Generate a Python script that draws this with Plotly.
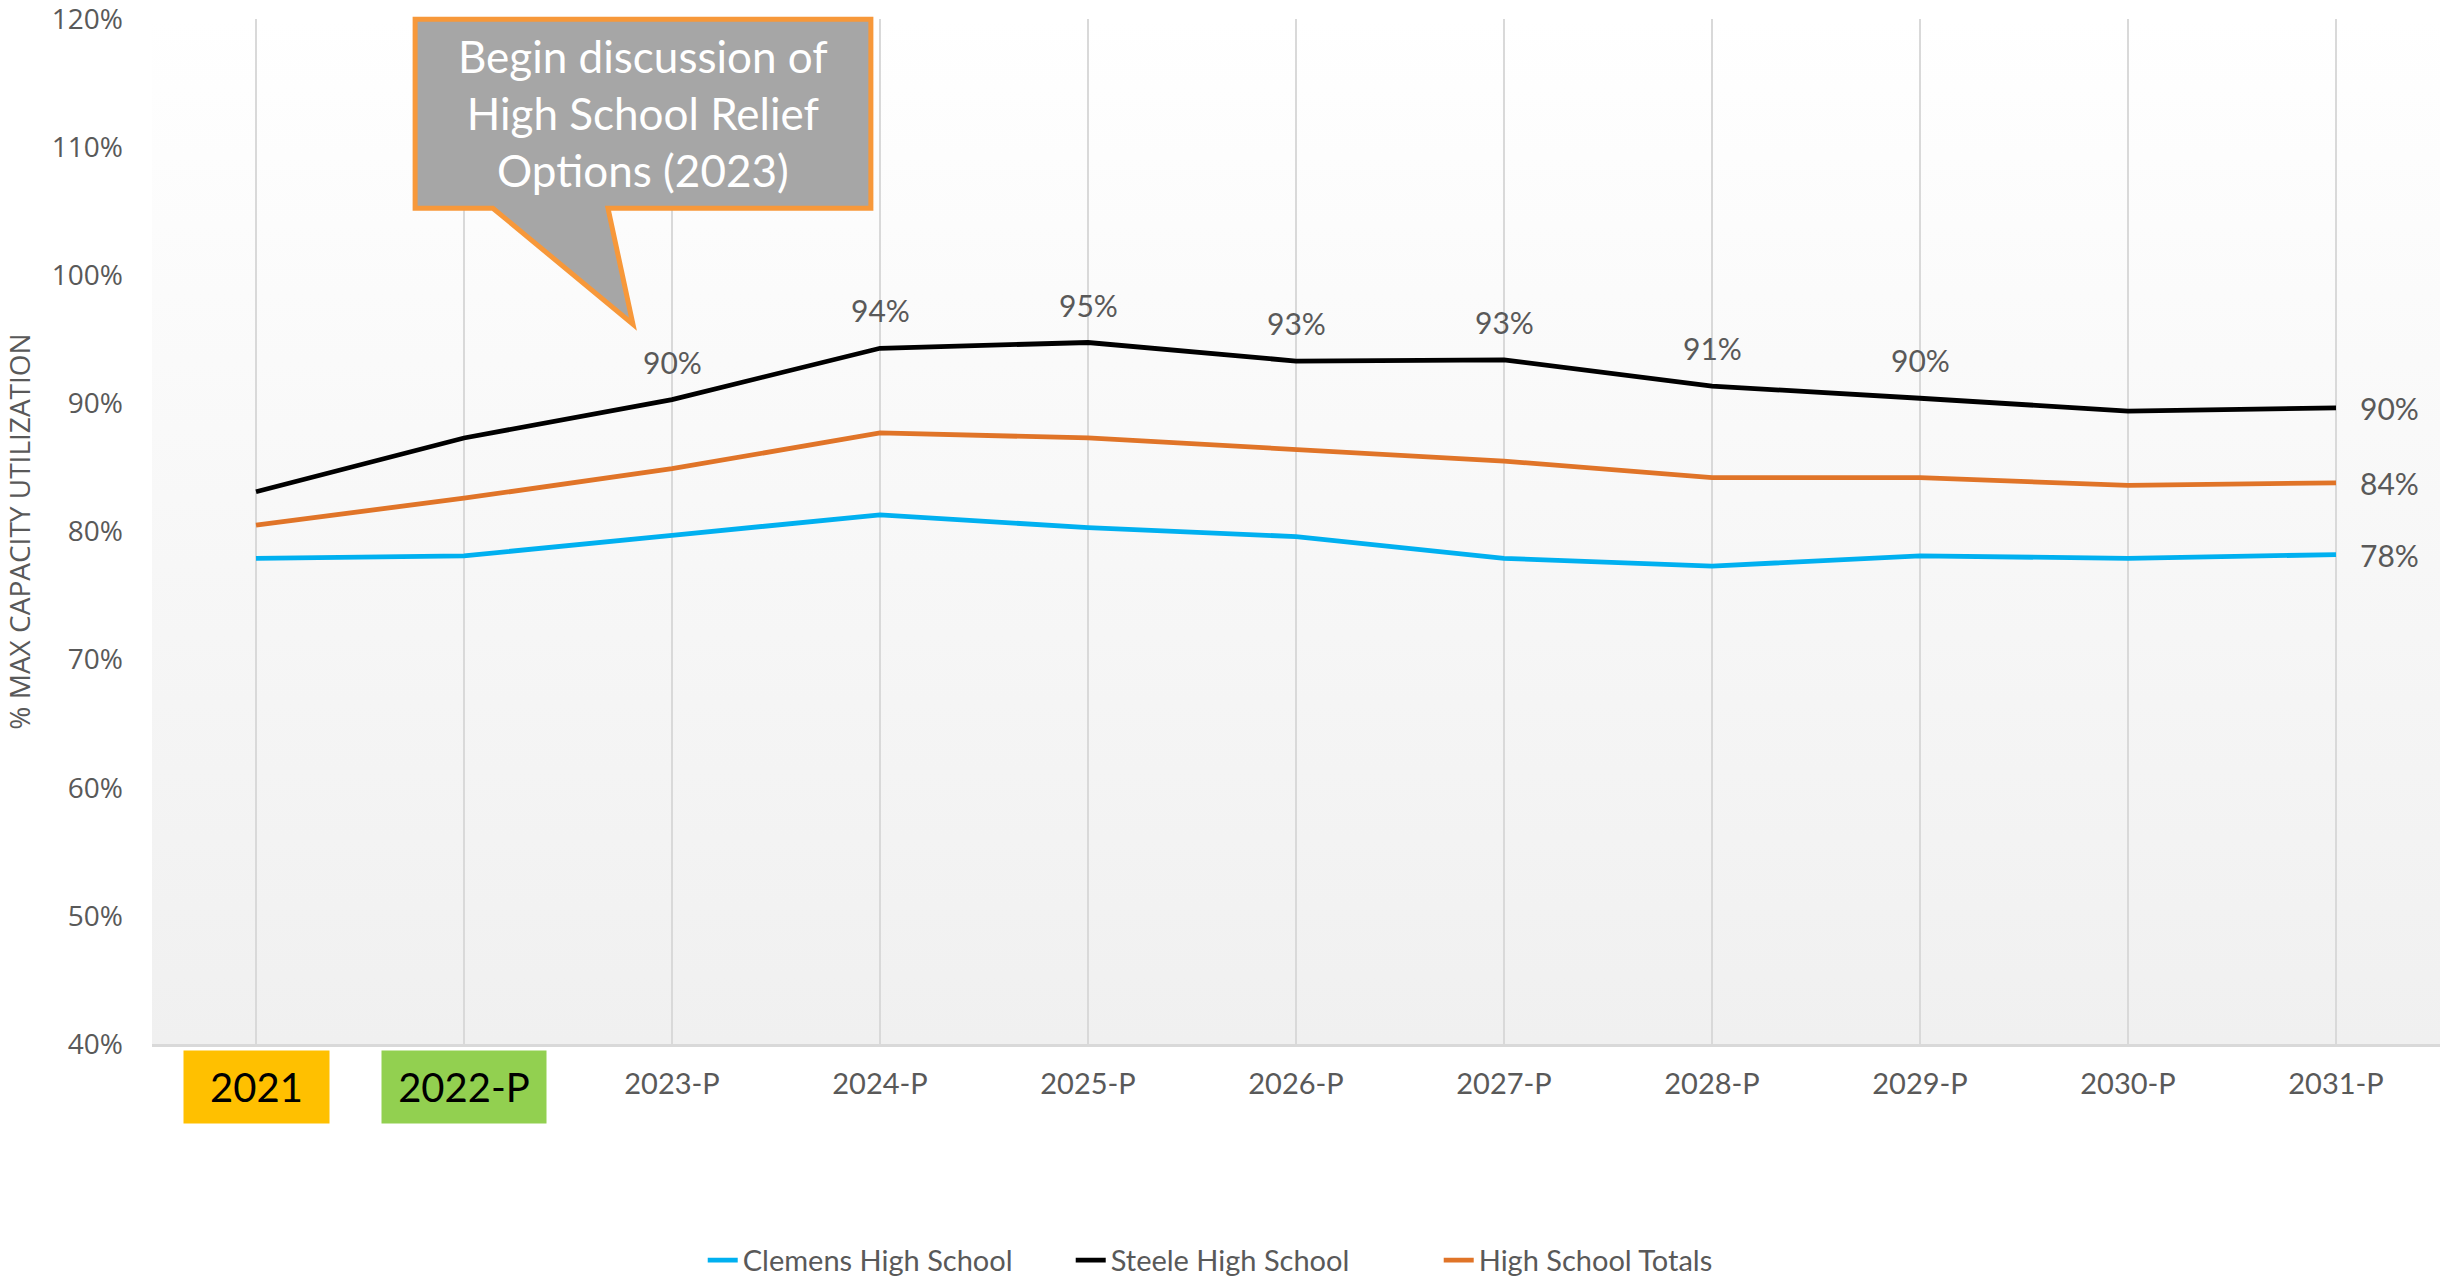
import base64
import plotly.graph_objects as go

# ---------------- data ----------------
years = ["2021", "2022-P", "2023-P", "2024-P", "2025-P", "2026-P",
         "2027-P", "2028-P", "2029-P", "2030-P", "2031-P"]
clemens = [77.9, 78.1, 79.7, 81.3, 80.3, 79.6, 77.9, 77.3, 78.1, 77.9, 78.2]
steele = [83.1, 87.3, 90.3, 94.3, 94.75, 93.3, 93.4, 91.35, 90.4, 89.4, 89.65]
totals = [80.5, 82.6, 84.9, 87.7, 87.3, 86.4, 85.5, 84.2, 84.2, 83.6, 83.8]
series_names = ["Clemens High School", "Steele High School", "High School Totals"]
steele_labeled_years = ["2023-P", "2024-P", "2025-P", "2026-P", "2027-P", "2028-P", "2029-P"]
highlight_years = ["2021", "2022-P"]
highlight_colors = ["#FFC000", "#92D050"]
callout_text = "Begin discussion of<br>High School Relief<br>Options (2023)"
y_title = "% MAX CAPACITY UTILIZATION"

NARROW = "Lato, Roboto, sans-serif"
WIDE = "Open Sans, Noto Sans, sans-serif"
GRAY_TXT = "#595959"

colors = ["#00B0F0", "#000000", "#E07428"]
values = [clemens, steele, totals]

fig = go.Figure()
for name, vals, col in zip(series_names, values, colors):
    fig.add_trace(go.Scatter(
        x=years, y=vals, name=name, mode="lines",
        line=dict(color=col, width=4.8),
        cliponaxis=False,
    ))

annotations = []
# Steele labels above points
for yr in steele_labeled_years:
    i = years.index(yr)
    v = steele[i]
    annotations.append(dict(
        x=i, y=v, xref="x", yref="y", text=f"{round(v):d}%", showarrow=False,
        yshift=38, font=dict(family=NARROW, size=30, color=GRAY_TXT)))
# End labels at right
for vals in values:
    v = vals[-1]
    annotations.append(dict(
        x=len(years) - 1, y=v, xref="x", yref="y", text=f"{round(v):d}%", showarrow=False,
        xanchor="left", xshift=22, font=dict(family=NARROW, size=30, color=GRAY_TXT)))
# Highlighted year labels
for yr, col in zip(highlight_years, highlight_colors):
    annotations.append(dict(
        x=years.index(yr), y=-0.042, xref="x", yref="paper", text=yr, showarrow=False,
        xanchor="center", yanchor="middle",
        bgcolor=col, width=143 if yr == "2021" else 162, height=70,
        font=dict(family=NARROW, size=40, color="#000000")))
# Callout text
annotations.append(dict(
    x=0.2146, y=0.908, xref="paper", yref="paper", text=callout_text,
    showarrow=False, font=dict(family=NARROW, size=44, color="#FFFFFF"),
    xanchor="center", yanchor="middle"))

ticktext = ["" if y in highlight_years else y for y in years]

# gradient background image
svg = ('<svg xmlns="http://www.w3.org/2000/svg" width="10" height="100" preserveAspectRatio="none">'
       '<defs><linearGradient id="g" x1="0" y1="0" x2="0" y2="1">'
       '<stop offset="0" stop-color="#FFFFFF"/><stop offset="1" stop-color="#F0F0F0"/>'
       '</linearGradient></defs><rect width="10" height="100" fill="url(#g)"/></svg>')
src = "data:image/svg+xml;base64," + base64.b64encode(svg.encode()).decode()

# callout shape (paper coords)
L, R, T, B = 0.1150, 0.3142, 0.9997, 0.8154
b1, b2, tx, ty = 0.1490, 0.1993, 0.2102, 0.7022
path = (f"M {L},{T} L {R},{T} L {R},{B} L {b2},{B} L {tx},{ty} "
        f"L {b1},{B} L {L},{B} Z")

fig.update_layout(
    width=2440, height=1282,
    margin=dict(l=152, r=0, t=19, b=238, autoexpand=False),
    paper_bgcolor="#FFFFFF", plot_bgcolor="rgba(0,0,0,0)",
    showlegend=True,
    legend=dict(orientation="h", x=0.2407, xanchor="left", y=-0.211, yanchor="middle",
                font=dict(family=NARROW, size=29, color=GRAY_TXT),
                itemwidth=30, traceorder="normal", entrywidth=323, entrywidthmode="pixels"),
    images=[dict(source=src, xref="paper", yref="paper", x=0, y=1, sizex=1, sizey=1,
                 xanchor="left", yanchor="top", sizing="stretch", layer="below")],
    shapes=[dict(type="path", path=path, xref="paper", yref="paper",
                 fillcolor="#A6A6A6", line=dict(color="#F7983A", width=5), layer="above")],
    annotations=annotations,
    xaxis=dict(
        type="category", range=[-0.5, 10.5], tickvals=years, ticktext=ticktext,
        showgrid=True, gridcolor="#D9D9D9", gridwidth=1.5,
        showline=True, linecolor="#D9D9D9", linewidth=3,
        ticks="", ticklabelstandoff=12, automargin=False,
        tickfont=dict(family=NARROW, size=29, color=GRAY_TXT), zeroline=False,
    ),
    yaxis=dict(
        range=[40, 120], dtick=10, ticksuffix="%", showgrid=False, zeroline=False,
        showline=False, ticks="", ticklabelstandoff=28, automargin=False,
        ticklabeloverflow="allow",
        tickfont=dict(family=WIDE, size=28, color=GRAY_TXT),
        title=dict(text=y_title, font=dict(family=WIDE, size=28, color=GRAY_TXT), standoff=32),
    ),
)

fig.write_html("out.html", config={"displayModeBar": False},
               post_script="document.body.style.margin='0';document.body.style.padding='0';")
